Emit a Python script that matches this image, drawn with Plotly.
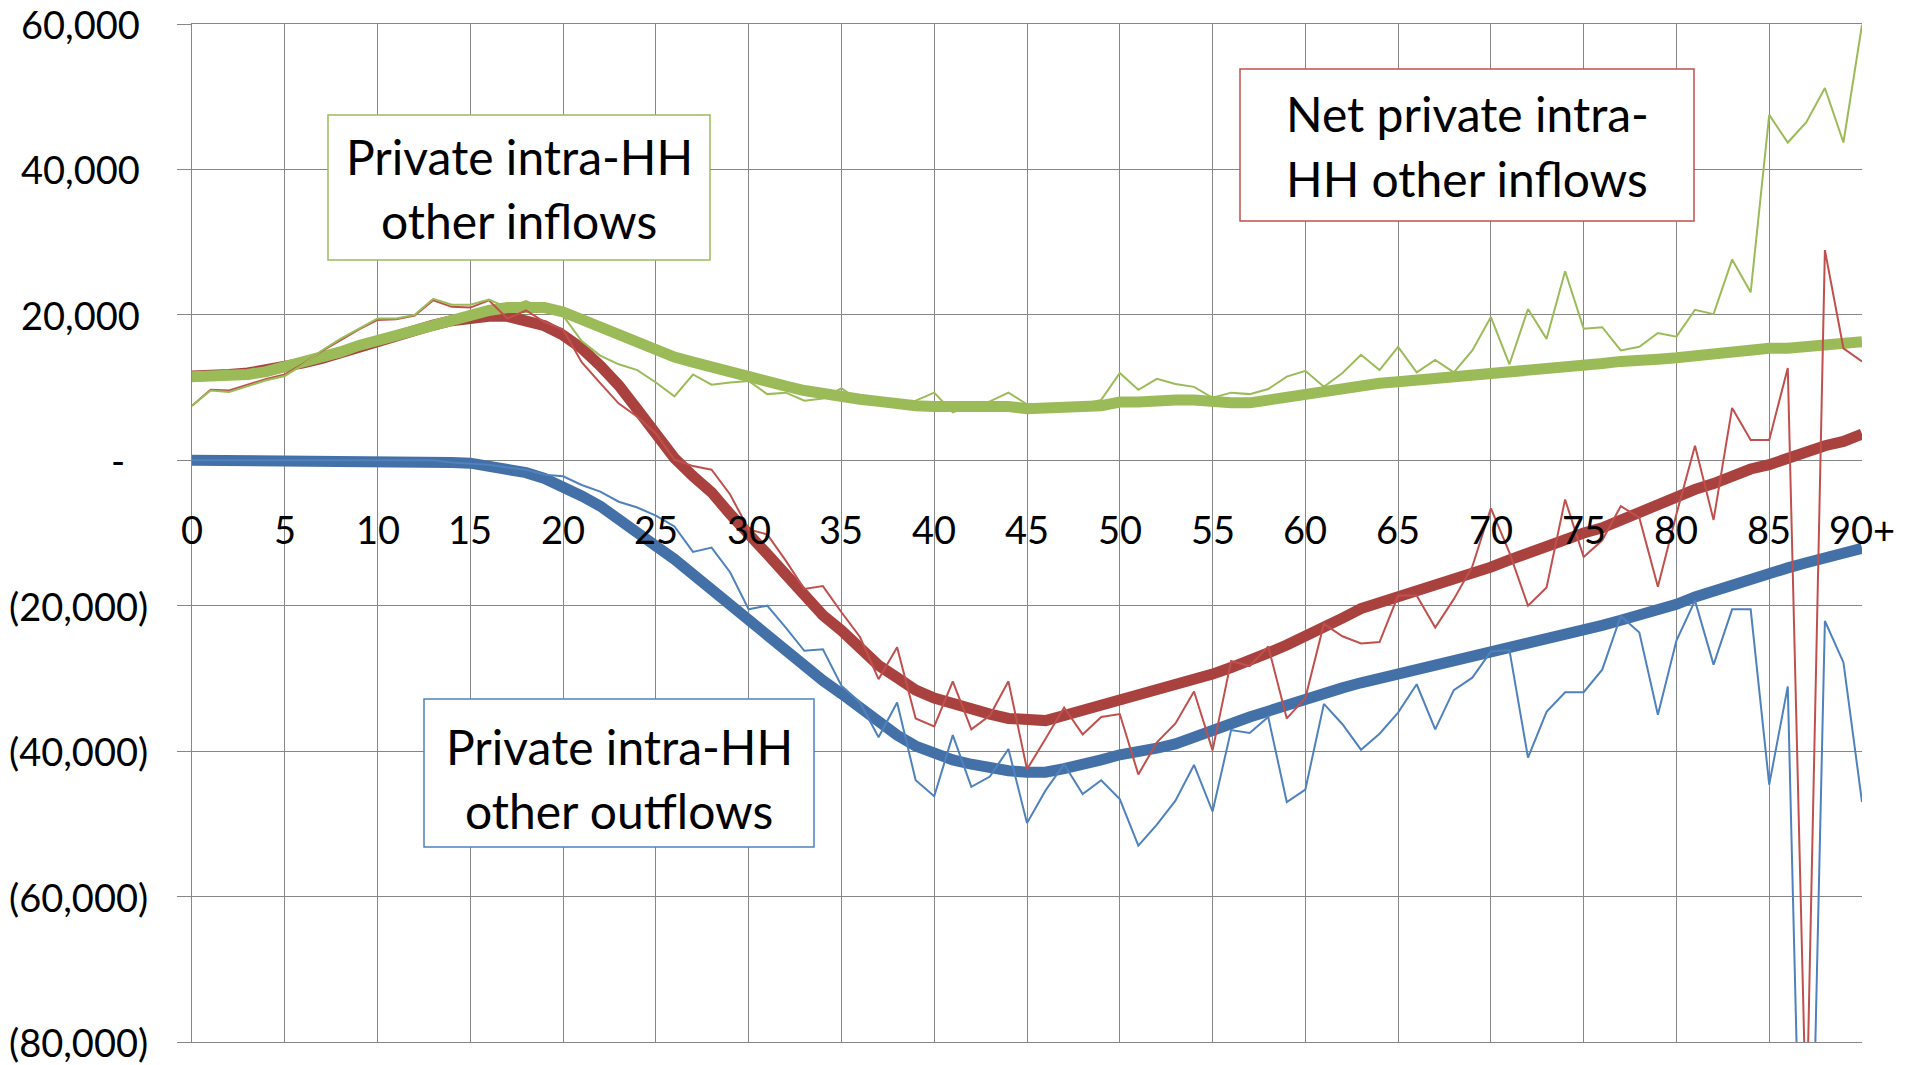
import plotly.graph_objects as go

# ---------------- data (values in thousands, ages 0..90) ----------------
ages = list(range(91))
x_tick_vals = list(range(0, 91, 5))
x_tick_text = [str(v) for v in range(0, 90, 5)] + ["90+"]
y_tick_vals = [60000, 40000, 20000, 0, -20000, -40000, -60000, -80000]
y_tick_text = ["60,000", "40,000", "20,000", "-", "(20,000)", "(40,000)", "(60,000)", "(80,000)"]

inflow_smooth = [11.5, 11.5, 11.6, 11.8, 12.2, 12.8, 13.4, 14.0, 14.9, 15.8,
                 16.5, 17.3, 18.1, 18.8, 19.5, 19.9, 20.6, 21.0, 21.1, 21.0,
                 20.4, 19.3, 18.3, 17.3, 16.4, 15.1, 14.2, 13.5, 12.8, 12.0,
                 11.5, 10.9, 10.2, 9.6, 9.1, 8.7, 8.4, 8.1, 7.7, 7.5,
                 7.4, 7.4, 7.4, 7.5, 7.4, 7.1, 7.1, 7.1, 7.4, 7.5,
                 8.0, 8.0, 8.3, 8.3, 8.3, 8.0, 7.9, 7.9, 8.3, 8.7,
                 9.0, 9.4, 10.1, 10.3, 10.6, 10.8, 11.0, 11.3, 11.5, 11.7,
                 11.9, 12.2, 12.4, 12.7, 12.7, 13.0, 13.3, 13.6, 13.9, 13.9,
                 14.1, 14.4, 14.8, 15.0, 15.2, 15.4, 15.4, 15.7, 16.0, 16.0,
                 16.3]
inflow_raw = [7.5, 9.6, 9.4, 10.2, 11.0, 11.6, 13.2, 15.1, 16.7, 18.1,
              19.5, 19.5, 20.0, 22.2, 21.4, 21.4, 22.1, 21.0, 21.9, 20.8,
              19.9, 16.4, 14.4, 13.2, 12.4, 10.7, 8.8, 11.8, 10.4, 10.7,
              10.9, 9.1, 9.3, 8.2, 8.5, 9.9, 8.1, 7.9, 7.7, 8.2,
              9.3, 6.6, 7.5, 8.1, 9.3, 7.7, 7.4, 7.5, 7.7, 8.3,
              12.0, 9.7, 11.2, 10.5, 10.1, 8.6, 9.3, 9.1, 9.8, 11.5,
              12.3, 10.1, 12.0, 14.5, 12.4, 15.6, 12.1, 13.8, 12.1, 15.1,
              19.7, 13.2, 20.8, 16.7, 26.0, 18.1, 18.3, 15.1, 15.6, 17.5,
              17.0, 20.7, 20.1, 27.6, 23.1, 47.5, 43.7, 46.5, 51.2, 43.7,
              59.9]
outflow_smooth = [0, 0, 0, 0, 0, 0, 0, 0, 0, 0,
                  0, 0, 0, 0, -0.3, -0.4, -0.8, -1.2, -1.7, -2.5,
                  -3.5, -4.9, -6.3, -8.0, -9.7, -11.8, -13.6, -15.7, -17.7, -20.0,
                  -22.3, -24.3, -26.4, -28.5, -30.3, -32.1, -34.0, -36.0, -37.8, -39.3,
                  -40.4, -41.2, -41.8, -42.4, -42.7, -42.9, -42.9, -42.4, -41.9, -41.2,
                  -40.5, -40.2, -39.6, -39.0, -38.0, -37.1, -36.2, -35.3, -34.5, -33.6,
                  -32.8, -32.1, -31.3, -30.6, -30.0, -29.6, -28.8, -28.3, -27.8, -27.0,
                  -26.5, -26.0, -25.2, -24.6, -24.1, -23.5, -22.7, -22.0, -21.3, -20.6,
                  -19.8, -18.8, -18.0, -17.0, -16.1, -15.6, -14.8, -14.1, -13.4, -13.0,
                  -12.1]
outflow_raw = [0, 0, 0, 0, 0, 0, 0, 0, 0, 0,
               0, 0, 0, 0, -0.3, -0.4, -0.6, -1.0, -1.3, -2.0,
               -2.2, -3.4, -4.3, -5.7, -6.5, -7.6, -9.1, -12.6, -12.0, -15.4,
               -20.5, -20.0, -23.0, -26.2, -26.0, -31.0, -33.3, -38.1, -33.3, -44.0,
               -46.2, -37.8, -44.9, -43.5, -39.7, -49.9, -45.4, -41.8, -45.9, -44.0,
               -46.6, -53.0, -50.1, -46.8, -41.9, -48.3, -37.1, -37.5, -35.3, -47.0,
               -45.3, -33.5, -36.3, -39.8, -37.6, -34.7, -30.8, -37.0, -31.6, -29.9,
               -26.3, -26.1, -40.9, -34.6, -31.9, -31.9, -28.8, -21.4, -23.7, -35.0,
               -24.8, -19.3, -28.1, -20.5, -20.5, -44.6, -31.1, -135.0, -22.1, -27.8,
               -47.0]
net_smooth = [11.6, 11.6, 11.8, 12.0, 12.4, 12.9, 13.4, 14.0, 14.8, 15.6,
              16.3, 17.1, 17.8, 18.6, 19.2, 19.6, 19.8, 19.8, 19.3, 18.5,
              17.2, 15.4, 13.0, 10.3, 7.0, 3.6, 0.3, -2.2, -4.4, -7.4,
              -10.4, -12.9, -15.7, -18.6, -21.3, -23.4, -25.9, -28.2, -29.9, -31.6,
              -32.7, -33.5, -34.2, -34.9, -35.5, -35.8, -35.8, -35.1, -34.4, -33.7,
              -32.9, -32.4, -31.7, -31.0, -30.3, -29.4, -28.5, -27.6, -26.5, -25.4,
              -24.3, -23.1, -21.7, -20.4, -19.6, -18.7, -18.1, -17.3, -16.5, -15.6,
              -14.7, -13.7, -12.7, -11.9, -10.9, -10.0, -9.3, -8.2, -7.4, -6.2,
              -5.0, -4.0, -3.2, -2.0, -1.2, -0.6, 0.3, 1.2, 2.0, 2.6,
              3.6]
net_raw = [7.5, 9.7, 9.6, 10.4, 11.2, 11.8, 13.3, 15.0, 16.5, 18.0,
           19.3, 19.4, 19.9, 22.0, 21.1, 21.0, 22.0, 19.5, 20.6, 19.0,
           18.0, 13.5, 10.6, 7.8, 6.0, 3.7, 0.1, -0.8, -1.3, -4.7,
           -9.5, -10.2, -13.8, -17.7, -17.3, -20.9, -24.3, -30.1, -25.7, -35.5,
           -36.6, -30.4, -37.0, -35.1, -30.4, -42.5, -38.3, -34.0, -37.7, -35.3,
           -34.9, -43.2, -38.8, -36.2, -31.8, -39.9, -27.6, -28.3, -25.6, -35.5,
           -32.7, -22.5, -24.2, -25.2, -25.0, -18.6, -18.6, -23.0, -19.1, -14.6,
           -6.6, -12.7, -20.0, -17.5, -5.4, -13.3, -11.0, -6.3, -7.9, -17.4,
           -7.4, 2.0, -8.2, 7.2, 2.8, 2.8, 12.7, -92.0, 28.9, 15.4,
           13.6]

def k(vals):
    return [v * 1000 for v in vals]

# ---------------- styling ----------------
BLUE_T, BLUE = "#4470A8", "#4F81BD"
RED_T, RED = "#A9423F", "#C0504D"
GREEN_T, GREEN = "#9BBB59", "#9BBB59"
GRID = "#868686"
FONT = "Lato"

# page geometry (the page body adds an 8px offset)
OFF = 8
PLOT_L, PLOT_R, PLOT_T, PLOT_B = 192, 1862, 24, 1042
PW, PH = PLOT_R - PLOT_L, PLOT_B - PLOT_T
W, H = 1914 - OFF, 1065 - OFF
ML, MT = PLOT_L - OFF, PLOT_T - OFF
MR, MB = W - ML - PW, H - MT - PH

def px_x(p):
    return (p - PLOT_L) / PW

def px_y(p):
    return (PLOT_B - p) / PH

fig = go.Figure()
series = [
    (outflow_smooth, BLUE_T, 11),
    (net_smooth, RED_T, 11),
    (inflow_smooth, GREEN_T, 11),
    (outflow_raw, BLUE, 2),
    (net_raw, RED, 2),
    (inflow_raw, GREEN, 2),
]
for vals, col, w in series:
    fig.add_trace(go.Scatter(x=ages, y=k(vals), mode="lines",
                             line=dict(color=col, width=w),
                             hoverinfo="skip", showlegend=False))

annotations = []
for v, t in zip(x_tick_vals, x_tick_text):
    annotations.append(dict(x=v, y=0, xref="x", yref="y", text=t, showarrow=False,
                            yshift=-69, xanchor="center", yanchor="middle",
                            font=dict(family=FONT, size=38, color="black")))
for v, t in zip(y_tick_vals, y_tick_text):
    if v > 0:
        ax, anc = px_x(142), "right"
    elif v < 0:
        ax, anc = px_x(150), "right"
    else:
        ax, anc = px_x(117.7), "center"
    annotations.append(dict(x=ax, y=v, xref="paper", yref="y", text=t, showarrow=False,
                            xanchor=anc, yanchor="middle",
                            font=dict(family=FONT, size=38, color="black")))

boxes = [
    (("Private intra-HH", "other inflows"), GREEN, (328, 115, 710, 260), (157, 221), 519),
    (("Net private intra-", "HH other inflows"), RED, (1240, 69, 1694, 221), (113, 178), 1467),
    (("Private intra-HH", "other outflows"), BLUE, (424, 699, 814, 847), (746, 810), 619),
]
shapes = []
for lines, col, (x0, y0, x1, y1), ys, cx in boxes:
    shapes.append(dict(type="rect", xref="paper", yref="paper",
                       x0=px_x(x0), x1=px_x(x1), y0=px_y(y1), y1=px_y(y0),
                       line=dict(color=col, width=1.5), fillcolor="white", layer="above"))
    for txt, yy in zip(lines, ys):
        annotations.append(dict(x=px_x(cx), y=px_y(yy), xref="paper", yref="paper",
                                text=txt, showarrow=False, xanchor="center", yanchor="middle",
                                font=dict(family=FONT, size=48, color="black")))

fig.update_layout(
    width=W, height=H,
    margin=dict(l=ML, r=MR, t=MT, b=MB, pad=0),
    paper_bgcolor="white", plot_bgcolor="white",
    font=dict(family=FONT, size=38, color="black"),
    showlegend=False,
    annotations=annotations,
    shapes=shapes,
    xaxis=dict(range=[0, 90], tickvals=x_tick_vals, showticklabels=False,
               showgrid=True, gridcolor=GRID, gridwidth=1.3, zeroline=False,
               showline=True, linecolor=GRID, linewidth=1.3, mirror=True, ticks=""),
    yaxis=dict(range=[-80000, 60000], tickvals=y_tick_vals, showticklabels=False,
               showgrid=True, gridcolor=GRID, gridwidth=1.3, zeroline=False,
               showline=True, linecolor=GRID, linewidth=1.3, mirror=False,
               ticks="outside", ticklen=14, tickcolor=GRID, tickwidth=1.3),
)

fig.write_html("out.html")
